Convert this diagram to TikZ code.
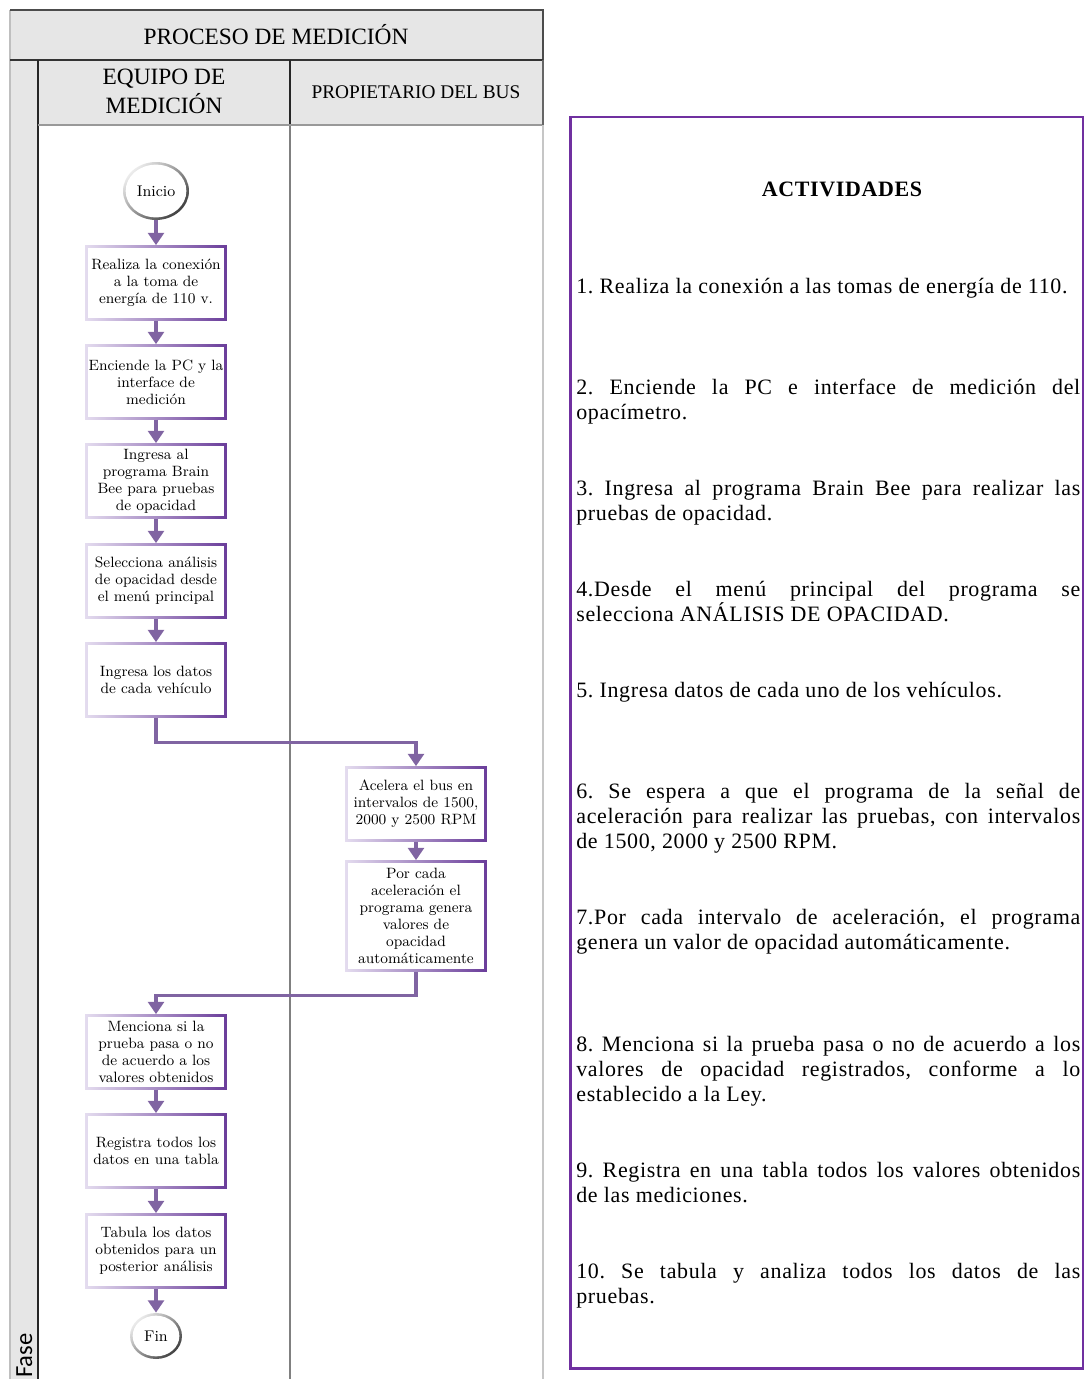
\documentclass[tikz,border=0pt]{standalone}
\usepackage{fontspec}
\newfontfamily\timesfont{Liberation Serif}
\newfontfamily\actfont[LetterSpace=3]{Liberation Serif}
\newfontfamily\fasefont{Carlito}
\usetikzlibrary{arrows.meta,calc,shapes.geometric}
\definecolor{lanegray}{HTML}{E6E6E6}
\definecolor{flowpurple}{HTML}{8064A2}
\definecolor{framepurple}{HTML}{7030A0}
\definecolor{boxlight}{HTML}{E4DCEF}
\definecolor{boxdark}{HTML}{6A3D9A}
\frenchspacing

\begin{document}
\begin{tikzpicture}[x=0.02cm, y=-0.02cm,
  box/.style={rectangle, minimum width=2.84cm, minimum height=1.5cm, inner sep=1pt,
    align=center, font=\fontsize{8.5}{9.7}\selectfont,
    left color=boxlight, right color=boxdark,
    path picture={\fill[white] ([shift={(1.5pt,-1.5pt)}]path picture bounding box.north west)
      rectangle ([shift={(-1.5pt,1.5pt)}]path picture bounding box.south east);}},
  term/.style={ellipse, inner sep=0pt, font=\fontsize{8.8}{9.7}\selectfont,
    top color=gray!15, bottom color=black!75, shading angle=45,
    path picture={\fill[white] let \p1=(path picture bounding box.north east),
      \p2=(path picture bounding box.center) in
      (\p2) ellipse ({\x1-\x2-1.5pt} and {\y1-\y2-1.5pt});}},
  flow/.style={-{Triangle[width=9pt,length=7pt]}, flowpurple, line width=1.8pt},
  head/.style={font=\timesfont\fontsize{13.3}{14}\selectfont, align=center},
  act/.style={anchor=base west, text width=10.08cm, align=justify, inner sep=0pt,
    font=\actfont\fontsize{12.5}{14.4}\selectfont},
  actline/.style={anchor=base west, inner sep=0pt, font=\actfont\fontsize{12.5}{14.4}\selectfont}
]
\useasboundingbox (0,0) rectangle (1084,1379);
% ── Swimlane frame ───────────────────────────────
\fill[lanegray] (10,10) rectangle (543,125);
\fill[lanegray] (10,125) rectangle (38,1385);
\draw[gray!50, line width=1.5pt] (10,1385) -- (10,10);
\draw[black!70, line width=1.5pt] (10,10) -- (543,10) -- (543,60);
\draw[black!80, line width=1.6pt] (10,60) -- (543,60);
\draw[black!85, line width=1.6pt] (38,60) -- (38,1385);
\draw[black!85, line width=1.6pt] (290,60) -- (290,125);
\draw[gray, line width=1.6pt] (290,125) -- (290,1385);
\draw[gray!80, line width=1.4pt] (38,125) -- (543,125);
\draw[black!60, line width=1.5pt] (543,60) -- (543,125);
\draw[gray!45, line width=1.5pt] (543,125) -- (543,1385);
\node[head] (titulo) at (276,35) {PROCESO DE MEDICIÓN};
\node[head] (equipo) at (164,91) {EQUIPO DE\\[2.5pt]MEDICIÓN};
\node[head, font=\timesfont\fontsize{11}{13}\selectfont] (propietario) at (416,92) {PROPIETARIO DEL BUS};
\node[rotate=90, anchor=base west, inner sep=0pt, font=\fasefont\fontsize{14}{16}\selectfont] (fase) at (32,1378) {Fase};
% ── Equipo de medición ───────────────────────────
\node[term, minimum width=1.32cm, minimum height=1.16cm] (inicio) at (156,191) {Inicio};
\node[box] (b1) at (156,283) {Realiza la conexión\\a la toma de\\energía de 110 v.};
\node[box] (b2) at (156,382) {Enciende la PC y la\\interface de\\medición};
\node[box] (b3) at (156,481) {Ingresa al\\programa Brain\\Bee para pruebas\\de opacidad};
\node[box] (b4) at (156,581) {Selecciona análisis\\de opacidad desde\\el menú principal};
\node[box] (b5) at (156,680) {Ingresa los datos\\de cada vehículo};
% ── Propietario del bus ──────────────────────────
\node[box] (b6) at (416,804) {Acelera el bus en\\intervalos de 1500,\\2000 y 2500 RPM};
\node[box, minimum height=2.22cm] (b7) at (416,916) {Por cada\\aceleración el\\programa genera\\valores de\\opacidad\\automáticamente};
% ── Equipo de medición ───────────────────────────
\node[box] (b8) at (156,1052) {Menciona si la\\prueba pasa o no\\de acuerdo a los\\valores obtenidos};
\node[box] (b9) at (156,1151) {Registra todos los\\datos en una tabla};
\node[box] (b10) at (156,1251) {Tabula los datos\\obtenidos para un\\posterior análisis};
\node[term, minimum width=1.04cm, minimum height=0.92cm] (fin) at (156,1336) {Fin};
% connectors
\draw[flow] (inicio) -- (b1);
\foreach \a/\b in {b1/b2, b2/b3, b3/b4, b4/b5, b6/b7, b8/b9, b9/b10}
  \draw[flow] (\a) -- (\b);
\draw[flow] (b10) -- (fin);
\draw[flow] (b5.south) -- ++(0,25) -| (b6.north);
\draw[flow] (b7.south) -- ++(0,24) -| (b8.north);
% ── Actividades ──────────────────────────────────
\draw[framepurple, line width=1.7pt] (570,117) rectangle (1083,1368);
\node[font=\actfont\bfseries\fontsize{12.5}{14}\selectfont] (actividades) at (842,189) {ACTIVIDADES};
\node[actline] (a1) at (576,293) {1. Realiza la conexión a las tomas de energía de 110.};
\node[act] (a2) at (576,394) {2. Enciende la PC e interface de medición del\linebreak opacímetro.};
\node[act] (a3) at (576,495) {3. Ingresa al programa Brain Bee para realizar las\linebreak pruebas de opacidad.};
\node[act] (a4) at (576,596) {4.Desde el menú principal del programa se\linebreak selecciona ANÁLISIS DE OPACIDAD.};
\node[actline] (a5) at (576,697) {5. Ingresa datos de cada uno de los vehículos.};
\node[act] (a6) at (576,798) {6. Se espera a que el programa de la señal de\linebreak aceleración para realizar las pruebas, con intervalos\linebreak de 1500, 2000 y 2500 RPM.};
\node[act] (a7) at (576,924) {7.Por cada intervalo de aceleración, el programa\linebreak genera un valor de opacidad automáticamente.};
\node[act] (a8) at (576,1051) {8. Menciona si la prueba pasa o no de acuerdo a los\linebreak valores de opacidad registrados, conforme a lo\linebreak establecido a la Ley.};
\node[act] (a9) at (576,1177) {9. Registra en una tabla todos los valores obtenidos\linebreak de las mediciones.};
\node[act] (a10) at (576,1278) {10. Se tabula y analiza todos los datos de las\linebreak pruebas.};
\end{tikzpicture}
\end{document}
